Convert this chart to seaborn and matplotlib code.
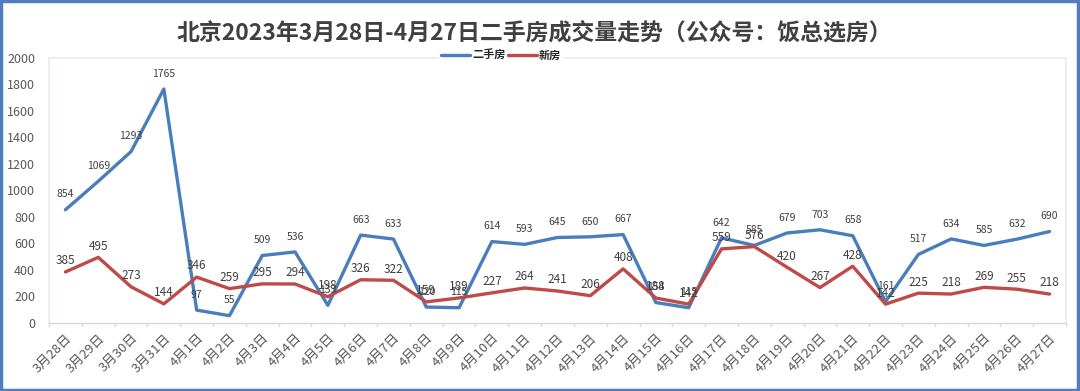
import pandas as pd
import matplotlib
matplotlib.use("Agg")
import matplotlib.pyplot as plt
import seaborn as sns
from matplotlib.patches import Rectangle

# ---- data ----
dates = ["3月28日", "3月29日", "3月30日", "3月31日", "4月1日", "4月2日", "4月3日", "4月4日",
         "4月5日", "4月6日", "4月7日", "4月8日", "4月9日", "4月10日", "4月11日", "4月12日",
         "4月13日", "4月14日", "4月15日", "4月16日", "4月17日", "4月18日", "4月19日", "4月20日",
         "4月21日", "4月22日", "4月23日", "4月24日", "4月25日", "4月26日", "4月27日"]
second_hand = [854, 1069, 1293, 1765, 97, 55, 509, 536, 133, 663, 633, 120, 115, 614, 593, 645,
               650, 667, 154, 115, 642, 585, 679, 703, 658, 161, 517, 634, 585, 632, 690]
new_house = [385, 495, 273, 144, 346, 259, 295, 294, 198, 326, 322, 159, 189, 227, 264, 241,
             206, 408, 188, 142, 559, 576, 420, 267, 428, 142, 225, 218, 269, 255, 218]
series_names = ["二手房", "新房"]
title = "北京2023年3月28日-4月27日二手房成交量走势（公众号：饭总选房）"

sns.set_style("white")
plt.rcParams["font.family"] = ["Noto Sans CJK SC", "DejaVu Sans"]

df = pd.DataFrame({
    "idx": list(range(len(dates))) * 2,
    "value": second_hand + new_house,
    "series": [series_names[0]] * len(dates) + [series_names[1]] * len(dates),
})

colors = {"二手房": "#4A7EBB", "新房": "#BE4B48"}

fig = plt.figure(figsize=(10.8, 3.91), dpi=100)
ax = fig.add_axes([0.0454, 0.174, 0.9416, 0.678])

sns.lineplot(data=df, x="idx", y="value", hue="series", palette=colors,
             linewidth=2.4, ax=ax, legend=False)

# data labels
for i, v in enumerate(second_hand):
    ax.annotate(str(v), (i, v), xytext=(0, 11), textcoords="offset points",
                ha="center", va="center", fontsize=7.5, color="#404040")
for i, v in enumerate(new_house):
    ax.annotate(str(v), (i, v), xytext=(0, 8), textcoords="offset points",
                ha="center", va="center", fontsize=8.5, color="#404040")

ax.set_xlim(-0.5, len(dates) - 0.5)
ax.set_ylim(0, 2000)
ax.set_yticks(range(0, 2001, 200))
ax.set_xticks(range(len(dates)))
ax.set_xticklabels(dates, rotation=45, ha="right", rotation_mode="anchor",
                   fontsize=9.5, color="#595959")
ax.tick_params(axis="y", labelsize=9, labelcolor="#595959", length=0, pad=10)
ax.tick_params(axis="x", length=0, pad=6)
ax.set_xlabel("")
ax.set_ylabel("")

# category tick marks between points
for k in range(len(dates) + 1):
    ax.plot([k - 0.5, k - 0.5], [0, -25], color="#D9D9D9", lw=1, clip_on=False)

for side in ["top", "right", "left"]:
    ax.spines[side].set_color("#E6ECF5")
    ax.spines[side].set_linewidth(1.2)
ax.spines["bottom"].set_color("#D9D9D9")
ax.spines["bottom"].set_linewidth(1)

fig.suptitle(title, x=0.495, y=0.945, fontsize=16.5, fontweight="bold", color="#404040")

handles = [plt.Line2D([], [], color=colors[n], lw=2.4) for n in series_names]
leg = fig.legend(handles, series_names, loc="center", bbox_to_anchor=(0.464, 0.859),
                 ncol=2, frameon=True, fontsize=8, handlelength=2.6, handletextpad=0.2,
                 columnspacing=0.2, borderpad=0.2)
leg.get_frame().set_facecolor("white")
leg.get_frame().set_edgecolor("white")
for t in leg.get_texts():
    t.set_fontweight("bold")

fig.patches.append(Rectangle((0.001, 0.002), 0.997, 0.995, transform=fig.transFigure,
                             fill=False, edgecolor="#4F7EC0", linewidth=2.5))

fig.savefig("out.png", dpi=100)
